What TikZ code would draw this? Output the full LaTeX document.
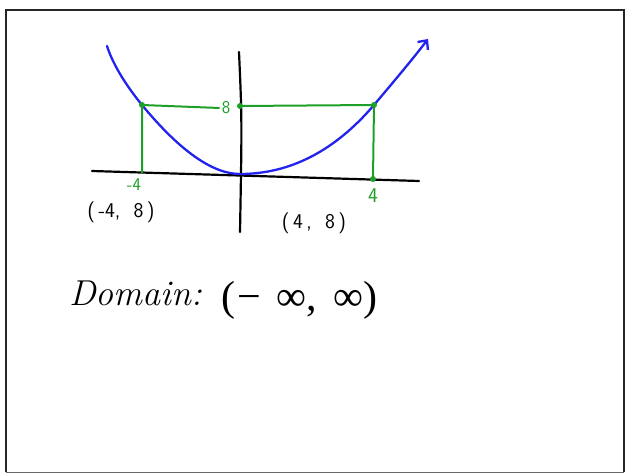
\documentclass[tikz,border=0pt]{standalone}
\usepackage{fontspec}
\newfontfamily\symf{Liberation Serif}
\usetikzlibrary{arrows.meta}
\definecolor{gr}{RGB}{30,160,40}
\definecolor{bl}{RGB}{35,35,240}
\begin{document}
\begin{tikzpicture}[x=1pt,y=-1pt,
  frame/.style={line width=2.4pt, black!85},
  axis/.style={line width=2.2pt, black, line cap=round},
  guide/.style={line width=2pt, gr},
  curve/.style={line width=2.3pt, bl, line cap=round},
  glabel/.style={text=gr, font=\sffamily\fontsize{18}{18}\selectfont, inner sep=0pt},
  plabel/.style={font=\sffamily\fontsize{21}{21}\selectfont, inner sep=0pt},
  dotg/.style={circle, fill=gr, inner sep=0pt, minimum size=6pt}]
\useasboundingbox (0,0) rectangle (626,473);
% frame
\coordinate (f1) at (6,472); \coordinate (f2) at (6,10);
\coordinate (f3) at (624,10); \coordinate (f4) at (624,472);
\draw[frame] (f1) -- (f2) -- (f3) -- (f4);
\draw[line width=1pt, black!60] (f1) -- (f4);
% axes
\coordinate (xl) at (92,171); \coordinate (xr) at (419,181);
\coordinate (yt) at (239,52); \coordinate (yb) at (240,232);
\draw[axis] (xl) -- (xr);
\draw[axis] (yt) .. controls (242,120) .. (yb);
% parabola
\coordinate (c0) at (107,46); \coordinate (pl) at (142,105);
\coordinate (v) at (240,174);
\coordinate (pr) at (374,105);
\coordinate (c6) at (428,39);
\draw[curve, -{Straight Barb[length=7pt,width=13pt]}]
  (c0) .. controls (112,62) and (124,83) .. (pl)
       .. controls (180,151) and (212.7,174) .. (v)
       .. controls (290,174) and (334.7,151) .. (pr)
       .. controls (395,80) and (412,60) .. (c6);
% guides
\coordinate (ml) at (142,173); \coordinate (mr) at (373,179);
\coordinate (y8) at (240,106);
\node[glabel] (l8) at (226,108) {8};
\draw[guide] (ml) -- (pl) -- ([xshift=-2pt]l8.west);
\draw[guide] (y8) -- (pr) -- (mr);
\node[dotg] (d1) at (pl) {}; \node[dotg] (d2) at (pr) {};
\node[dotg] (d3) at (y8) {}; \node[dotg] (d4) at (mr) {};
\node[glabel] (lm4) at (134,185) {-4};
\node[glabel, font=\sffamily\fontsize{21}{21}\selectfont] (l4) at (373,196) {4};
\node[plabel] (pa) at (121,212) {(\,-4,\ \ 8\,)};
\node[plabel] (pb) at (314,223) {(\,4\,,\ \ 8\,)};
\node[font=\itshape\fontsize{36}{40}\selectfont, anchor=base west, inner sep=0pt] (dom) at (69,305) {Domain:};
\node[font=\symf\fontsize{42}{46}\selectfont, anchor=base west, inner sep=0pt] (int) at (221,310) {(\hspace{2pt}−\hspace{16pt}∞,\hspace{16pt}∞)};
\end{tikzpicture}
\end{document}
